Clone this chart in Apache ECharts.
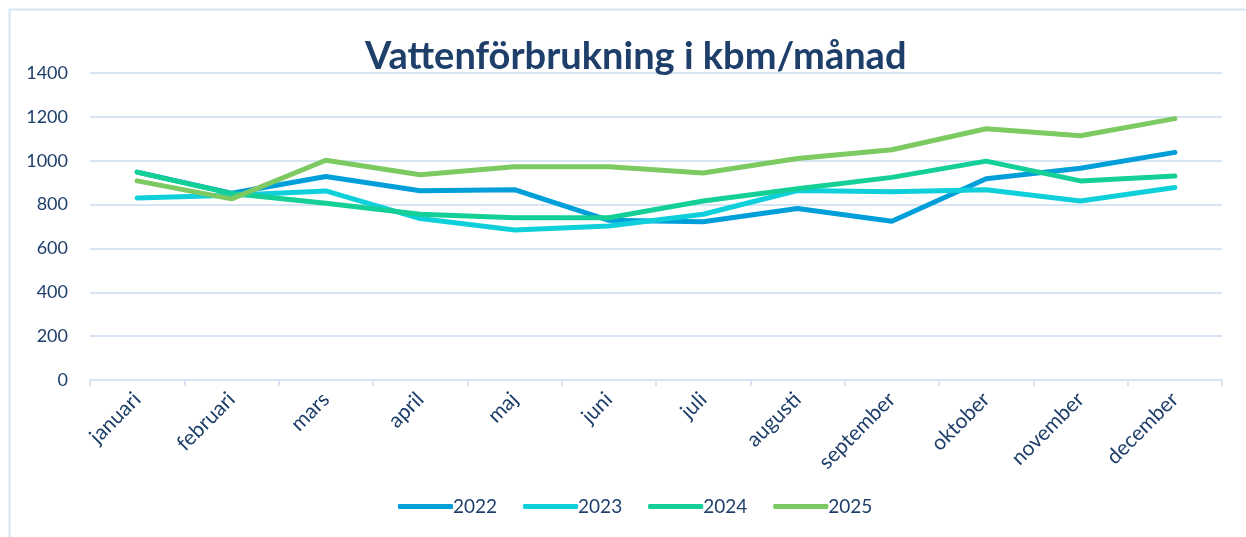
<!DOCTYPE html>
<html>
<head>
<meta charset="utf-8">
<script src="https://cdn.jsdelivr.net/npm/echarts@6/dist/echarts.min.js"></script>
<style>
    html, body { margin: 0; padding: 0; background: #fff; }
    #chart { width: 1246px; height: 537px; }
</style>
</head>
<body>
<div id="chart"></div>
<script>
const months = ['januari', 'februari', 'mars', 'april', 'maj', 'juni', 'juli', 'augusti', 'september', 'oktober', 'november', 'december'];
const years = ['2022', '2023', '2024', '2025'];
const y2022 = [948, 852, 928, 863, 868, 728, 722, 782, 724, 918, 966, 1038];
const y2023 = [830, 842, 862, 736, 684, 702, 756, 864, 858, 868, 816, 878];
const y2024 = [948, 850, 806, 756, 740, 740, 816, 872, 924, 998, 908, 930];
const y2025 = [908, 826, 1002, 936, 972, 972, 944, 1010, 1050, 1146, 1114, 1192];
const yTicks = [0, 200, 400, 600, 800, 1000, 1200, 1400];

const colors = ['#009fda', '#0fcfda', '#14cf96', '#7dc962'];
const textColor = '#1f3f6b';
const fontFamily = 'Lato, "Open Sans", sans-serif';

var chart = echarts.init(document.getElementById('chart'));

let series = [];
[y2022, y2023, y2024, y2025].forEach(function (data, i) {
    series.push({
        name: years[i],
        type: 'line',
        data: data,
        symbol: 'none',
        lineStyle: {
            width: 5,
            color: colors[i],
            cap: 'round',
            join: 'round'
        },
        itemStyle: { color: colors[i] }
    });
});

chart.setOption({
    animation: false,
    textStyle: { fontFamily: fontFamily },
    graphic: [{
        type: 'rect',
        shape: { x: 9.5, y: 9.5, width: 1400, height: 700 },
        style: { fill: 'none', stroke: '#d6e4f4', lineWidth: 2 },
        silent: true
    }],
    title: {
        text: 'Vattenförbrukning i kbm/månad',
        left: 360,
        top: 33,
        textStyle: {
            color: textColor,
            fontSize: 38,
            fontWeight: 'bold',
            fontFamily: fontFamily
        }
    },
    legend: {
        data: years,
        bottom: 16,
        left: 393,
        itemWidth: 55,
        itemHeight: 5,
        itemGap: 26,
        icon: 'roundRect',
        textStyle: { color: textColor, fontSize: 19, fontFamily: fontFamily, padding: [0, 0, 0, -5] }
    },
    grid: {
        left: 90,
        right: 24,
        top: 73,
        bottom: 157
    },
    xAxis: {
        type: 'category',
        data: months,
        boundaryGap: true,
        axisLine: { lineStyle: { color: '#d6e4f4', width: 2 } },
        axisTick: { show: true, length: 6, lineStyle: { color: '#d6e4f4', width: 2 } },
        axisLabel: {
            rotate: 45,
            color: textColor,
            fontSize: 21,
            margin: 16,
            interval: 0
        }
    },
    yAxis: {
        type: 'value',
        min: 0,
        max: yTicks[yTicks.length - 1],
        interval: 200,
        axisLine: { show: false },
        axisTick: { show: false },
        axisLabel: {
            color: textColor,
            fontSize: 18,
            margin: 22,
            formatter: function (v) { return String(v); }
        },
        splitLine: { lineStyle: { color: '#d6e4f4', width: 2 } }
    },
    series: series
});
</script>
</body>
</html>
